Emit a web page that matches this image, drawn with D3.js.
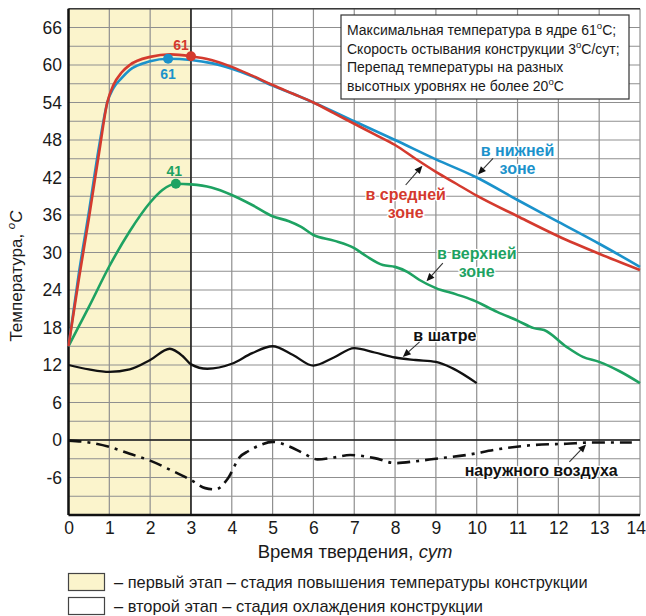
<!DOCTYPE html>
<html>
<head>
<meta charset="utf-8">
<script src="https://cdn.jsdelivr.net/npm/d3@7"></script>
<style>
  body { margin: 0; background: #ffffff; }
  svg { display: block; font-family: "Liberation Sans", Arial, sans-serif; }
</style>
</head>
<body>
<svg id="chart" width="646" height="616"></svg>
<script>
// ---- Data: concrete hardening temperatures, [day, °C] ----
const lowerZone = [
  [0, 15], [0.25, 26.5], [0.5, 36.5], [0.75, 47], [0.95, 54], [1.1, 56.3], [1.3, 57.9],
  [1.5, 59.2], [2, 60.6], [2.44, 61], [3, 60.8], [3.5, 60.3], [4, 59.4], [4.5, 58.2],
  [5, 56.7], [5.5, 55.4], [6, 54], [7, 51], [8, 48], [9, 44.9], [10, 42], [11, 38.4],
  [12, 34.9], [13, 31.4], [14, 27.7]
];
const middleZone = [
  [0, 15], [0.25, 25.6], [0.5, 35.5], [0.75, 46], [0.95, 54], [1.1, 56.8], [1.3, 58.8],
  [1.5, 60], [2, 61.3], [2.5, 61.7], [3, 61.4], [3.5, 60.8], [4, 59.7], [4.5, 58.3],
  [5, 56.8], [5.5, 55.4], [6, 54], [6.5, 52.3], [7, 50.6], [7.5, 48.9], [8, 47.2],
  [8.5, 45], [9, 42.9], [9.5, 41], [10, 39.1], [11, 35.8], [12, 32.6], [13, 29.8], [14, 27.2]
];
const upperZone = [
  [0, 15], [0.5, 21.3], [1, 27.8], [1.5, 33.4], [2, 38], [2.3, 40], [2.63, 41], [3, 40.9],
  [3.5, 40.4], [4, 39.2], [4.5, 37.6], [5, 35.8], [5.4, 35], [5.7, 34.1], [6, 32.8],
  [6.5, 31.9], [7, 30.7], [7.3, 29.4], [7.7, 28], [8, 27.7], [8.3, 26.9], [8.6, 25.6],
  [9, 24.3], [9.5, 23.3], [9.9, 22.4], [10.5, 20.5], [11, 19.1], [11.4, 17.9], [11.65, 17.6],
  [12.2, 14.9], [12.6, 13.3], [13, 12.5], [13.5, 11], [14, 9.1]
];
const tentAir = [
  [0, 12], [0.5, 11.3], [1, 10.9], [1.5, 11.3], [2, 12.8], [2.48, 14.6], [2.8, 13.4],
  [3, 12.1], [3.4, 11.4], [4, 12.2], [4.5, 13.9], [5, 15], [5.5, 13.6], [6, 11.9],
  [6.5, 13.2], [7, 14.7], [7.5, 14], [8, 13.2], [8.5, 12.8], [9, 12.5], [9.4, 11.5], [10, 9.1]
];
const outsideAir = [
  [0, -0.1], [0.5, -0.4], [1, -1.1], [1.5, -2.2], [2, -3.3], [2.5, -4.8], [3, -6.4],
  [3.35, -7.7], [3.6, -7.9], [3.9, -6.2], [4.2, -2.7], [4.4, -1.8], [4.7, -0.8], [5, -0.3],
  [5.4, -1], [5.75, -2.1], [6.1, -3.1], [6.5, -2.8], [6.9, -2.4], [7.5, -2.9], [8, -3.7],
  [8.5, -3.4], [9, -3], [9.75, -2.4], [10.5, -1.5], [11.4, -0.8], [12.2, -0.6], [12.8, -0.4],
  [13.8, -0.4]
];

// Peak markers: [day, °C]
const peakMiddle = [3, 61.4];
const peakLower = [2.44, 61];
const peakUpper = [2.63, 41];

// Stage boundaries (days)
const heatingStage = [0, 3];

// Tick labels
const xTicks = [0, 1, 2, 3, 4, 5, 6, 7, 8, 9, 10, 11, 12, 13, 14];
const yTicks = [-6, 0, 6, 12, 18, 24, 30, 36, 42, 48, 54, 60, 66];

// ---- Layout ----
const svg = d3.select("#chart");
const plot = { left: 68.5, right: 640, top: 8.75, bottom: 515 };
const x = d3.scaleLinear().domain([0, 14]).range([plot.left, plot.right]);
const y = d3.scaleLinear().domain([-12, 69]).range([plot.bottom, plot.top]);

const YELLOW = "#fbf4cc";
const GRID = "#8f8f8f";
const RED = "#d43a2e";
const BLUE = "#1b92cb";
const GREEN = "#1ea262";

// Stage 1 background
svg.append("rect")
  .attr("x", x(heatingStage[0])).attr("y", plot.top)
  .attr("width", x(heatingStage[1]) - x(heatingStage[0]))
  .attr("height", plot.bottom - plot.top)
  .attr("fill", YELLOW);

// Grid
const grid = svg.append("g").attr("stroke", GRID).attr("stroke-width", 1.2);
grid.selectAll("line.v").data(d3.range(0, 15)).join("line")
  .attr("x1", d => x(d)).attr("x2", d => x(d))
  .attr("y1", plot.top).attr("y2", plot.bottom);
grid.selectAll("line.h").data(d3.range(-12, 70, 3)).join("line")
  .attr("x1", plot.left).attr("x2", plot.right)
  .attr("y1", d => y(d)).attr("y2", d => y(d));

// Frame top
svg.append("line").attr("x1", plot.left).attr("x2", plot.right)
  .attr("y1", plot.top).attr("y2", plot.top).attr("stroke", "#3a3a3a").attr("stroke-width", 1.5);

// Stage divider and zero line
svg.append("line").attr("x1", x(heatingStage[1])).attr("x2", x(heatingStage[1]))
  .attr("y1", plot.top).attr("y2", plot.bottom).attr("stroke", "#1a1a1a").attr("stroke-width", 1.5);
svg.append("line").attr("x1", plot.left).attr("x2", plot.right)
  .attr("y1", y(0)).attr("y2", y(0)).attr("stroke", "#1a1a1a").attr("stroke-width", 1.6);

// Axes (plain hyphen for negatives)
const plain = d => String(d);
const xAxis = svg.append("g").attr("transform", `translate(0,${plot.bottom})`)
  .call(d3.axisBottom(x).tickValues(xTicks).tickSize(0).tickSizeOuter(0).tickPadding(6.5).tickFormat(plain));
const yAxis = svg.append("g").attr("transform", `translate(${plot.left},0)`)
  .call(d3.axisLeft(y).tickValues(yTicks).tickSize(0).tickSizeOuter(0).tickPadding(6.5).tickFormat(plain));
[xAxis, yAxis].forEach(g => {
  g.select(".domain").attr("stroke", "#111").attr("stroke-width", 2.5);
  g.selectAll("text").attr("font-family", "'Liberation Sans', Arial, sans-serif")
    .attr("font-size", 17.5).attr("fill", "#1a1a1a");
});
yAxis.select(".domain").attr("d", `M0,${plot.top}V${plot.bottom}`);
xAxis.select(".domain").attr("d", `M${plot.left},0H${plot.right}`);
// keep the last day label inside the canvas
xAxis.selectAll(".tick").filter(d => d === 14).select("text")
  .attr("text-anchor", "end").attr("x", 645.5 - x(14));

// Series
const line = d3.line().x(d => x(d[0])).y(d => y(d[1])).curve(d3.curveMonotoneX);
const series = [
  { data: outsideAir, color: "#111", width: 2.6, dash: "13,6,3,6" },
  { data: tentAir, color: "#111", width: 2.3 },
  { data: upperZone, color: GREEN, width: 2.6 },
  { data: lowerZone, color: BLUE, width: 2.6 },
  { data: middleZone, color: RED, width: 2.6 }
];
svg.append("g").selectAll("path").data(series).join("path")
  .attr("d", d => line(d.data))
  .attr("fill", "none")
  .attr("stroke", d => d.color)
  .attr("stroke-width", d => d.width)
  .attr("stroke-dasharray", d => d.dash || null)
  .attr("stroke-linejoin", "round");

// Peak markers with value labels
const peaks = [
  { p: peakLower, color: BLUE, dx: 0, dy: 15 },
  { p: peakMiddle, color: RED, dx: -10, dy: -11 },
  { p: peakUpper, color: GREEN, dx: -1.5, dy: -13 }
];
const fmt = d3.format(".0f");
peaks.forEach(m => {
  svg.append("circle").attr("cx", x(m.p[0])).attr("cy", y(m.p[1])).attr("r", 5).attr("fill", m.color);
  svg.append("text").attr("x", x(m.p[0]) + m.dx).attr("y", y(m.p[1]) + m.dy)
    .attr("dy", "0.35em").attr("text-anchor", "middle")
    .attr("font-size", 14).attr("font-weight", "bold").attr("fill", m.color)
    .text(fmt(m.p[1]));
});

// Curve labels with pointer arrows (positions in data units)
const curveLabels = [
  { lines: ["в нижней", "зоне"], at: [11.0, 46.4], color: BLUE, from: [10.4, 45.07], to: [10.03, 42.5] },
  { lines: ["в средней", "зоне"], at: [8.26, 39.3], color: RED, from: [8.26, 40.8], to: [8.67, 43.9] },
  { lines: ["в верхней", "зоне"], at: [10.0, 29.9], color: GREEN, from: [9.17, 28.3], to: [8.77, 25.4] },
  { lines: ["в шатре"], at: [9.22, 16.8], color: "#111", from: [8.6, 15.7], to: [8.19, 13.3] },
  { lines: ["наружного воздуха"], at: [11.58, -4.8], color: "#111", from: [12.27, -3.5], to: [12.68, -0.7] }
];
curveLabels.forEach(c => {
  const t = svg.append("text")
    .attr("text-anchor", "middle").attr("font-size", 16).attr("font-weight", "bold")
    .attr("fill", c.color).attr("stroke", "#fff").attr("stroke-width", 2.5)
    .attr("paint-order", "stroke").attr("stroke-linejoin", "round");
  c.lines.forEach((s, i) => {
    t.append("tspan").attr("x", x(c.at[0])).attr("y", y(c.at[1]) + i * 18).attr("dy", "0.35em").text(s);
  });
  const x1 = x(c.from[0]), y1 = y(c.from[1]), x2 = x(c.to[0]), y2 = y(c.to[1]);
  const ang = Math.atan2(y2 - y1, x2 - x1);
  const len = 8, hw = 3.5;
  const bx = x2 - len * Math.cos(ang), by = y2 - len * Math.sin(ang);
  svg.append("line").attr("x1", x1).attr("y1", y1).attr("x2", bx).attr("y2", by)
    .attr("stroke", "#333").attr("stroke-width", 1.1);
  svg.append("path")
    .attr("d", `M${x2},${y2}L${bx + hw * Math.sin(ang)},${by - hw * Math.cos(ang)}L${bx - hw * Math.sin(ang)},${by + hw * Math.cos(ang)}Z`)
    .attr("fill", "#111");
});

// Rich text helper (superscripts and italics)
function rich(sel, parts, size) {
  let raised = false;
  parts.forEach(p => {
    const t = sel.append("tspan").text(p.t);
    if (p.sup) { t.attr("font-size", size * 0.68).attr("dy", -size * 0.42); raised = true; }
    else if (raised) { t.attr("dy", size * 0.42); raised = false; }
    if (p.it) t.attr("font-style", "italic");
  });
}

// Info box
const infoLines = [
  [{ t: "Максимальная температура в ядре 61" }, { t: "o", sup: true }, { t: "C;" }],
  [{ t: "Скорость остывания конструкции 3" }, { t: "o", sup: true }, { t: "C/сут;" }],
  [{ t: "Перепад температуры на разных" }],
  [{ t: "высотных уровнях не более 20" }, { t: "o", sup: true }, { t: "C" }]
];
svg.append("rect").attr("x", 341).attr("y", 15).attr("width", 288).attr("height", 84)
  .attr("fill", "#fff").attr("stroke", "#333").attr("stroke-width", 1.2);
infoLines.forEach((parts, i) => {
  const t = svg.append("text").attr("x", 347).attr("y", 35 + i * 18.6)
    .attr("font-size", 14).attr("fill", "#1a1a1a");
  rich(t, parts, 14);
});

// Axis titles
const xt = svg.append("text").attr("x", 355).attr("y", 558).attr("text-anchor", "middle")
  .attr("font-size", 18.5).attr("fill", "#1a1a1a");
rich(xt, [{ t: "Время твердения, " }, { t: "сут", it: true }], 18.5);

const yt = svg.append("text").attr("transform", "translate(22,276) rotate(-90)")
  .attr("text-anchor", "middle").attr("font-size", 17).attr("fill", "#1a1a1a");
rich(yt, [{ t: "Температура, " }, { t: "o", sup: true, it: true }, { t: "C", it: true }], 17);

// Legend
const legendItems = [
  { fill: YELLOW, label: "– первый этап – стадия повышения температуры конструкции" },
  { fill: "#fff", label: "– второй этап – стадия охлаждения конструкции" }
];
legendItems.forEach((d, i) => {
  svg.append("rect").attr("x", 68.5).attr("y", 573.5 + i * 24).attr("width", 36).attr("height", 17)
    .attr("fill", d.fill).attr("stroke", "#444").attr("stroke-width", 1.2);
  svg.append("text").attr("x", 114).attr("y", 588 + i * 24)
    .attr("font-size", 16.4).attr("fill", "#1a1a1a").text(d.label);
});
</script>
</body>
</html>
